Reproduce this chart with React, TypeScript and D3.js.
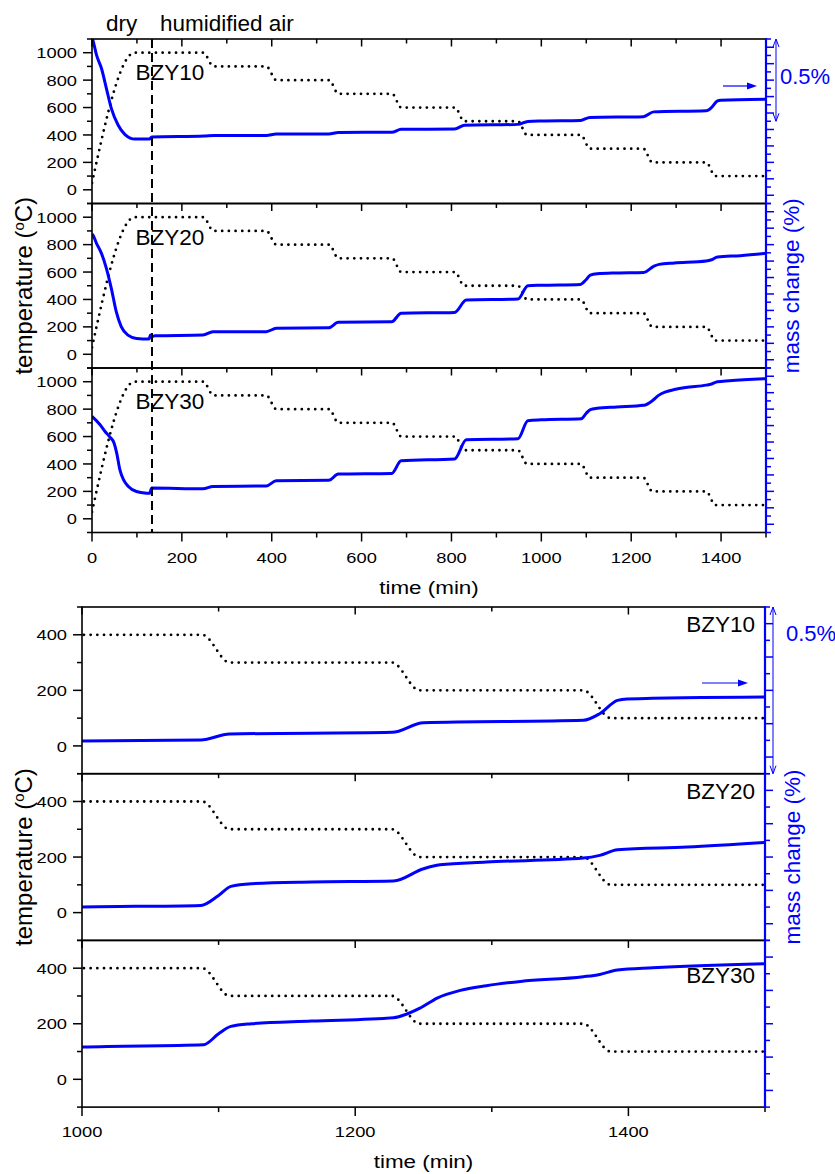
import React from 'react';
import * as d3 from 'd3';

// ---------------- data ----------------
const tempTime = [0, 95, 248, 270, 388, 410, 528, 548, 668, 688, 808, 828, 948, 968, 1088, 1108, 1227, 1247, 1367, 1387, 1500];
const tempValue = [50, 1000, 1000, 900, 900, 800, 800, 700, 700, 600, 600, 500, 500, 400, 400, 300, 300, 200, 200, 100, 100];

const samples = ['BZY10', 'BZY20', 'BZY30'];

const bzy10Time = [0, 3, 10, 21, 32, 43, 58, 73, 85, 95, 128, 133, 250, 272, 388, 410, 527, 548, 667, 688, 807, 829, 948, 970, 1000, 1087, 1108, 1227, 1250, 1367, 1379, 1392, 1399, 1500];
const bzy10Mass = [1.013, 0.983, 0.903, 0.822, 0.7, 0.578, 0.477, 0.42, 0.398, 0.392, 0.392, 0.404, 0.41, 0.413, 0.414, 0.422, 0.423, 0.432, 0.433, 0.451, 0.453, 0.475, 0.481, 0.499, 0.502, 0.505, 0.523, 0.528, 0.557, 0.564, 0.584, 0.624, 0.628, 0.634];

const bzy20Time = [0, 2, 10, 21, 32, 43, 54, 65, 80, 99, 127, 130, 133, 140, 247, 269, 388, 410, 527, 548, 667, 688, 807, 833, 948, 970, 1000, 1087, 1100, 1109, 1124, 1168, 1228, 1250, 1262, 1296, 1367, 1379, 1392, 1443, 1500];
const bzy20Mass = [0.813, 0.808, 0.758, 0.697, 0.606, 0.484, 0.342, 0.251, 0.2, 0.18, 0.176, 0.2, 0.19, 0.196, 0.2, 0.22, 0.221, 0.241, 0.244, 0.278, 0.281, 0.333, 0.338, 0.413, 0.419, 0.5, 0.503, 0.508, 0.538, 0.565, 0.573, 0.578, 0.581, 0.618, 0.63, 0.638, 0.65, 0.658, 0.675, 0.683, 0.697];

const bzy30Time = [0, 18, 29, 40, 49, 55, 62, 70, 81, 99, 122, 128, 133, 247, 269, 388, 410, 527, 548, 667, 688, 807, 833, 948, 970, 1000, 1089, 1100, 1109, 1124, 1168, 1228, 1248, 1260, 1277, 1296, 1321, 1367, 1379, 1392, 1418, 1500];
const bzy30Mass = [0.706, 0.655, 0.614, 0.58, 0.544, 0.483, 0.382, 0.321, 0.28, 0.249, 0.239, 0.238, 0.27, 0.266, 0.28, 0.283, 0.314, 0.317, 0.355, 0.359, 0.436, 0.447, 0.564, 0.57, 0.679, 0.685, 0.692, 0.725, 0.747, 0.755, 0.763, 0.773, 0.803, 0.832, 0.855, 0.869, 0.882, 0.896, 0.903, 0.916, 0.923, 0.935];

const massTimes = [bzy10Time, bzy20Time, bzy30Time];
const massValues = [bzy10Mass, bzy20Mass, bzy30Mass];

// mass-axis windows (% mass change) of each panel
const overviewMassMin = [0, 0, 0];
const overviewMassSpan = 1.0;
const zoomMassMin = [0.404, 0.403, 0.505];
const zoomMassSpan = 0.5;

const switchTime = 133.5; // dry -> humidified air

const FONT = "'Liberation Sans', Arial, Helvetica, sans-serif";
const BLUE = '#0000ff';
const SX = 1.18;

type TxtProps = { x: number; y: number; size: number; anchor?: string; fill?: string; tf?: string; children: React.ReactNode };
function Txt({ x, y, size, anchor = 'start', fill = '#000', tf = '', children }: TxtProps) {
  return (
    <text transform={`translate(${x},${y}) ${tf}`} fontSize={size} fontFamily={FONT} textAnchor={anchor} fill={fill}>
      {children}
    </text>
  );
}

type FigProps = {
  id: string;
  left: number;
  right: number;
  top: number;
  panelH: number;
  xDomain: [number, number];
  tempDomain: [number, number];
  tempLabelMax: number;
  massMin: number[];
  massSpan: number;
  massTickStep: number;
  zoomed: boolean;
};

function Figure(p: FigProps) {
  const x = d3.scaleLinear().domain(p.xDomain).range([p.left, p.right]);
  const tops = [0, 1, 2].map((i) => p.top + i * p.panelH);
  const bottom = p.top + 3 * p.panelH;
  const xTicks = d3.range(p.xDomain[0], p.xDomain[1] + 1, 100);
  const tTicks = d3.range(p.tempDomain[0], p.tempDomain[1] + 1, 100);
  const tempPts: [number, number][] = tempTime.map((t, i) => [t, tempValue[i]]);
  const els: React.ReactNode[] = [];

  tops.forEach((pt, i) => {
    const yT = d3.scaleLinear().domain(p.tempDomain).range([pt + p.panelH, pt]);
    const mMin = p.massMin[i];
    const yM = d3.scaleLinear().domain([mMin, mMin + p.massSpan]).range([pt + p.panelH, pt]);
    const clipId = `${p.id}-clip-${i}`;
    const lineT = d3.line<[number, number]>().x((d) => x(d[0])).y((d) => yT(d[1])).curve(d3.curveMonotoneX);
    const massPts: [number, number][] = massTimes[i].map((t, k) => [t, massValues[i][k]]);
    const lineM = d3.line<[number, number]>().x((d) => x(d[0])).y((d) => yM(d[1])).curve(d3.curveMonotoneX);
    els.push(
      <g key={`panel${i}`}>
        <defs>
          <clipPath id={clipId}>
            <rect x={p.left} y={pt} width={p.right - p.left} height={p.panelH} />
          </clipPath>
        </defs>
        <g clipPath={`url(#${clipId})`}>
          <path d={lineT(tempPts) || ''} fill="none" stroke="#000" strokeWidth={2.8} strokeDasharray="0 6.7" strokeLinecap="round" />
          <path d={lineM(massPts) || ''} fill="none" stroke={BLUE} strokeWidth={3} strokeLinejoin="round" />
        </g>
        <rect x={p.left} y={pt} width={p.right - p.left} height={p.panelH} fill="none" stroke="#000" strokeWidth={1.6} />
        {/* inward top ticks */}
        {xTicks.map((t) => (
          <line key={`tt${t}`} x1={x(t)} x2={x(t)} y1={pt} y2={pt + (t % 200 === 0 ? 7.5 : 4.5)} stroke="#000" strokeWidth={1.5} />
        ))}
        {/* left temperature ticks */}
        {tTicks.map((v) => (
          <line key={`lt${v}`} x1={p.left - (v % 200 === 0 ? 9 : 5)} x2={p.left} y1={yT(v)} y2={yT(v)} stroke="#000" strokeWidth={1.5} />
        ))}
        {tTicks.filter((v) => v % 200 === 0 && v >= 0 && v <= p.tempLabelMax).map((v) => (
          <Txt key={`ll${v}`} x={p.left - 15} y={yT(v) + 5.6} size={15.5} anchor="end" tf={`scale(${SX},1)`}>{String(v)}</Txt>
        ))}
        {/* right mass ticks */}
        {d3.range(0, Math.round(p.massSpan / p.massTickStep) + 1).map((k) => {
          const v = mMin + k * p.massTickStep;
          return <line key={`rt${k}`} x1={p.right} x2={p.right + (k % 2 === 1 ? 8 : 5)} y1={yM(v)} y2={yM(v)} stroke={BLUE} strokeWidth={1.5} />;
        })}
        {/* sample label */}
        {p.zoomed ? (
          <Txt x={p.right - 10} y={pt + (i === 2 ? 43 : 25)} size={22.5} anchor="end">{samples[i]}</Txt>
        ) : (
          <Txt x={135.5} y={pt + 41} size={22.5}>{samples[i]}</Txt>
        )}
        {/* 0.5% scale arrow on first panel */}
        {i === 0 && (() => {
          const ax = p.zoomed ? p.right + 8 : p.right + 10;
          const y1 = yM(mMin + p.massSpan);
          const y2 = yM(mMin + p.massSpan - 0.5);
          const sx0 = p.zoomed ? 702 : 723;
          const sx1 = p.zoomed ? 748 : 757;
          const sy = p.zoomed ? 683 : 86;
          return (
            <g>
              <line x1={ax} x2={ax} y1={y1} y2={y2} stroke={BLUE} strokeWidth={1} />
              <polyline points={`${ax - 3},${y1 + 8} ${ax},${y1} ${ax + 3},${y1 + 8}`} fill="none" stroke={BLUE} strokeWidth={1} />
              <polyline points={`${ax - 3},${y2 - 8} ${ax},${y2} ${ax + 3},${y2 - 8}`} fill="none" stroke={BLUE} strokeWidth={1} />
              <Txt x={p.zoomed ? 786 : 780} y={p.zoomed ? 641 : 84} size={22} fill={BLUE}>0.5%</Txt>
              <line x1={sx0} x2={sx1 - 7} y1={sy} y2={sy} stroke={BLUE} strokeWidth={1.2} />
              <polygon points={`${sx1 - 10},${sy - 3.5} ${sx1},${sy} ${sx1 - 10},${sy + 3.5}`} fill={BLUE} />
            </g>
          );
        })()}
      </g>
    );
  });

  return (
    <g>
      {els}
      {/* bottom outward ticks and labels */}
      {xTicks.map((t) => (
        <line key={`bt${t}`} x1={x(t)} x2={x(t)} y1={bottom} y2={bottom + (t % 200 === 0 ? 9 : 5)} stroke="#000" strokeWidth={1.5} />
      ))}
      {xTicks.filter((t) => t % 200 === 0).map((t) => (
        <Txt key={`bl${t}`} x={x(t)} y={bottom + 30} size={15.5} anchor="middle" tf={`scale(${SX},1)`}>{String(t)}</Txt>
      ))}
      {/* blue right axis */}
      <line x1={p.right} x2={p.right} y1={p.top - 0.8} y2={bottom + 0.8} stroke={BLUE} strokeWidth={2.2} />
      {/* titles */}
      <Txt x={(p.left + p.right) / 2} y={bottom + 61} size={19} anchor="middle" tf={`scale(${SX},1)`}>time (min)</Txt>
      <Txt x={32} y={(p.top + bottom) / 2} size={24} anchor="middle" tf="rotate(-90)">
        temperature (<tspan dy={-8} fontSize={15}>o</tspan><tspan dy={8}>C)</tspan>
      </Txt>
      <Txt x={p.right + (p.zoomed ? 35 : 33)} y={(p.top + bottom) / 2} size={22.5} anchor="middle" fill={BLUE} tf="rotate(-90)">
        mass change (%)
      </Txt>
    </g>
  );
}

export default function App() {
  const xTop = d3.scaleLinear().domain([0, 1500]).range([92, 766]);
  return (
    <svg width={835} height={1174} style={{ position: 'absolute', left: 0, top: 0, background: '#fff' }}>
      <rect x={0} y={0} width={835} height={1174} fill="#fff" />
      <Figure
        id="ov"
        left={92}
        right={766}
        top={39}
        panelH={164.5}
        xDomain={[0, 1500]}
        tempDomain={[-100, 1100]}
        tempLabelMax={1000}
        massMin={overviewMassMin}
        massSpan={overviewMassSpan}
        massTickStep={0.05}
        zoomed={false}
      />
      {/* dry / humidified switch */}
      <line x1={xTop(switchTime)} x2={xTop(switchTime)} y1={39} y2={532.5} stroke="#000" strokeWidth={2} strokeDasharray="9 5" />
      <Txt x={106} y={31} size={22.5}>dry</Txt>
      <Txt x={160} y={31} size={22.5}>humidified air</Txt>
      <Figure
        id="zm"
        left={82}
        right={765}
        top={607}
        panelH={166.7}
        xDomain={[1000, 1500]}
        tempDomain={[-100, 500]}
        tempLabelMax={400}
        massMin={zoomMassMin}
        massSpan={zoomMassSpan}
        massTickStep={0.05}
        zoomed={true}
      />
    </svg>
  );
}
